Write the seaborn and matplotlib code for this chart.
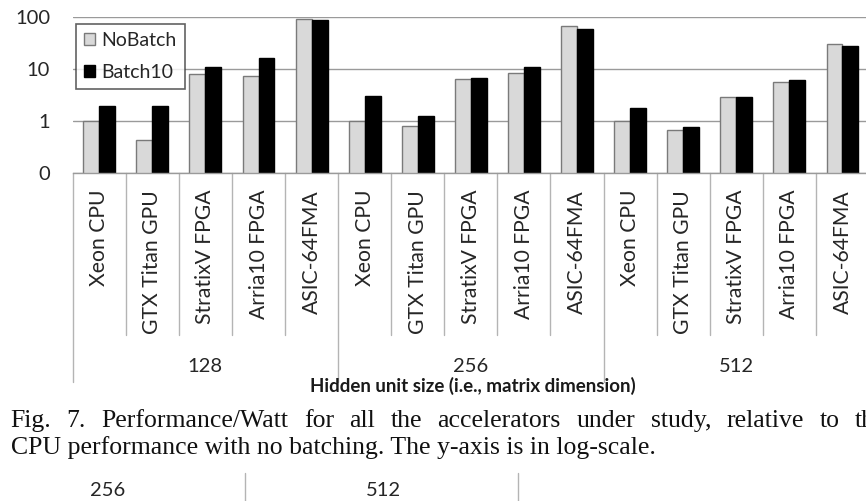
import pandas as pd
import seaborn as sns
import matplotlib.pyplot as plt
from matplotlib.lines import Line2D
from matplotlib.ticker import FixedLocator, NullLocator

# Hidden unit sizes (outer category level) and accelerators (inner level)
sizes = ["128", "256", "512"]
devices = ["Xeon CPU", "GTX Titan GPU", "StratixV FPGA", "Arria10 FPGA", "ASIC-64FMA"]
series = ["NoBatch", "Batch10"]

# Performance/Watt relative to the Xeon CPU without batching
nobatch_128 = [1.0, 0.43, 8.1, 7.5, 93.0]
batch10_128 = [2.0, 2.0, 11.0, 16.8, 88.0]
nobatch_256 = [1.0, 0.82, 6.6, 8.5, 69.0]
batch10_256 = [3.05, 1.25, 6.8, 11.1, 59.0]
nobatch_512 = [1.0, 0.67, 2.9, 5.6, 31.0]
batch10_512 = [1.84, 0.78, 2.9, 6.3, 28.0]

y_ticks = [0.1, 1, 10, 100]
y_tick_labels = ["0", "1", "10", "100"]

caption_1 = "Fig. 7. Performance/Watt for all the accelerators under study, relative to the"
caption_2 = "CPU performance with no batching. The y-axis is in log-scale."
x_title = "Hidden unit size (i.e., matrix dimension)"

values = {
    ("128", "NoBatch"): nobatch_128, ("128", "Batch10"): batch10_128,
    ("256", "NoBatch"): nobatch_256, ("256", "Batch10"): batch10_256,
    ("512", "NoBatch"): nobatch_512, ("512", "Batch10"): batch10_512,
}

rows = []
slots = []
for size in sizes:
    for i, dev in enumerate(devices):
        slot = f"{size}:{dev}"
        slots.append(slot)
        for s in series:
            rows.append({"slot": slot, "series": s, "value": values[(size, s)][i]})
df = pd.DataFrame(rows)

sns.set_style("white")
plt.rcParams["font.family"] = ["Lato", "DejaVu Sans"]

W, H = 866, 501
fig = plt.figure(figsize=(W / 100, H / 100), dpi=100)
fig.patch.set_facecolor("white")


def fx(px):
    return px / W


def fy(py):
    return 1 - py / H


ax_left, ax_top, ax_bottom, ax_width = 72.7, 17.3, 173.3, 796.3
ax = fig.add_axes([fx(ax_left), fy(ax_bottom), ax_width / W, (ax_bottom - ax_top) / H])
ax_h = ax_bottom - ax_top

sns.barplot(
    data=df, x="slot", y="value", hue="series", order=slots, hue_order=series,
    palette={"NoBatch": "#d9d9d9", "Batch10": "#000000"}, saturation=1,
    width=0.6, gap=0, ax=ax, legend=True, errorbar=None,
)
ax.set_yscale("log")
edge_cols = {"NoBatch": "#7a7a7a", "Batch10": "#000000"}
for cont, s in zip(ax.containers, series):
    for p in cont:
        p.set_edgecolor(edge_cols[s])
        p.set_linewidth(1.0)

ax.set_ylim(0.1, 100)
ax.set_xlim(-0.5, len(slots) - 0.5)
ax.yaxis.set_major_locator(FixedLocator(y_ticks))
ax.yaxis.set_minor_locator(NullLocator())
ax.set_yticklabels(y_tick_labels)
ax.set_xticks(range(len(slots)))
ax.set_xticklabels([s.split(":", 1)[1] for s in slots], rotation=90, va="top", ha="center")
ax.set_xlabel("")
ax.set_ylabel("")

grid_col = "#9a9a9a"
ax.yaxis.grid(True, color=grid_col, linewidth=1.0)
ax.xaxis.grid(False)
ax.set_axisbelow(True)
for side in ["top", "left", "right"]:
    ax.spines[side].set_visible(False)
ax.spines["bottom"].set_color(grid_col)
ax.spines["bottom"].set_linewidth(1.0)
ax.tick_params(axis="y", length=5.8, width=1.0, color=grid_col, pad=10.5,
               labelsize=14.5, labelcolor="#262626")
ax.tick_params(axis="x", length=0, pad=12, labelsize=15.2, labelcolor="#262626")

# Two-level category axis: short separators between devices, long ones between sizes
sep_col = "#b4b4b4"
xt = ax.get_xaxis_transform()
for b in range(len(slots) + 1):
    x = b - 0.5
    end_px = 382 if b % len(devices) == 0 else 335
    ax.add_line(Line2D([x, x], [0, -(end_px - ax_bottom) / ax_h], transform=xt,
                       color=sep_col, linewidth=1.0, clip_on=False))
for g, size in enumerate(sizes):
    center = g * len(devices) + (len(devices) - 1) / 2
    ax.text(center, -(366 - ax_bottom) / ax_h, size, transform=xt, ha="center",
            va="center", fontsize=14.5, color="#262626")

fig.text(fx(473), fy(386), x_title, ha="center", va="center", fontsize=13.5,
         fontweight="bold", color="#1a1a1a")

leg = ax.legend(loc="upper left", bbox_to_anchor=(fx(76), fy(24)),
                bbox_transform=fig.transFigure, borderaxespad=0, frameon=True,
                fancybox=False, fontsize=14, handlelength=0.55, handleheight=0.55,
                handletextpad=0.35, borderpad=0.42, labelspacing=0.75)
leg.set_zorder(10)
leg.get_frame().set_edgecolor("#3a3a3a")
leg.get_frame().set_linewidth(1.2)
for t in leg.get_texts():
    t.set_color("#262626")
for h, s in zip(leg.legend_handles, series):
    h.set_edgecolor(edge_cols[s])
    h.set_linewidth(1.0)

# Caption text; the first line is justified across the column width
serif = ["Liberation Serif", "DejaVu Serif"]
cap_size = 18.5
renderer = fig.canvas.get_renderer()
words = caption_1.split(" ")
word_texts = [fig.text(0, fy(427), w, ha="left", va="baseline", fontsize=cap_size,
                       family=serif, color="#111111") for w in words]
widths = [t.get_window_extent(renderer).width for t in word_texts]
x_start, last_start = 10.0, 855.0
gap = (last_start - x_start - sum(widths[:-1])) / (len(words) - 1)
x = x_start
for t, w in zip(word_texts, widths):
    t.set_x(fx(x))
    x += w + gap
fig.text(fx(11), fy(454), caption_2, ha="left", va="baseline", fontsize=cap_size,
         family=serif, color="#111111")

# Top of the next panel's group axis
for label, xpos in [("256", 108), ("512", 383)]:
    fig.text(fx(xpos), fy(490), label, ha="center", va="center", fontsize=14.5,
             color="#262626")
for xpos in [245, 518]:
    fig.add_artist(Line2D([fx(xpos), fx(xpos)], [fy(473), fy(501)],
                          transform=fig.transFigure, color=sep_col, linewidth=1.0))

fig.savefig("out.png", dpi=100, facecolor="white")
